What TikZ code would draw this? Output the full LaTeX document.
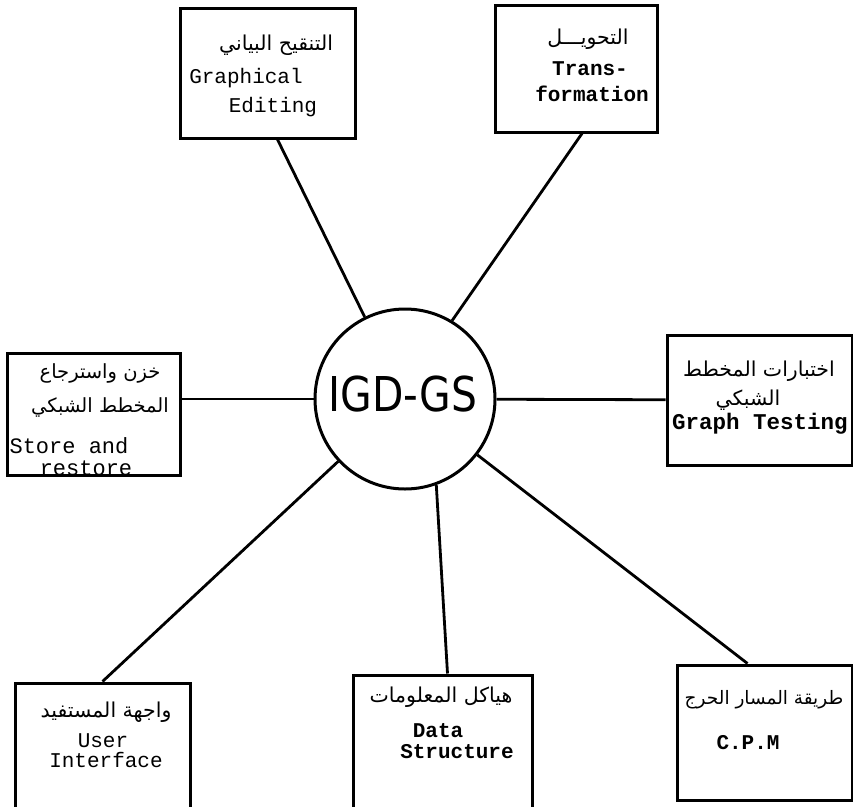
\documentclass[tikz,border=0pt]{standalone}
\usepackage{fontspec}
\setmainfont{Liberation Serif}
\newfontfamily\arabicfont[Script=Arabic]{DejaVu Sans}
\newfontfamily\twfont{Liberation Mono}
\newfontfamily\hubfont{DejaVu Sans}
\TeXXeTstate=1
\begin{document}
\begin{tikzpicture}[x=1pt,y=-1pt,
  box/.style={draw,line width=3pt,inner sep=0pt},
  conn/.style={line width=2.8pt},
  ar/.style={font=\arabicfont\fontsize{20.5}{24}\selectfont,inner sep=0pt},
  en/.style={font=\twfont\fontsize{21}{24}\selectfont,inner sep=0pt},
  enb/.style={font=\twfont\bfseries\fontsize{21}{24}\selectfont,inner sep=0pt}]
\fill[white] (0,0) rectangle (853,806);
\useasboundingbox (0,0) rectangle (853,806);

% hub
\node[draw,circle,line width=3pt,minimum size=180pt,inner sep=0pt] (c) at (405,399) {};
\node[font=\hubfont\fontsize{48}{50}\selectfont,inner sep=0pt] (hub) at (403,394) {\scalebox{0.85}[1]{IGD-GS}};

% boxes
\node[box,minimum width=175pt,minimum height=130pt] (ge) at (267.5,73) {};
\node[box,minimum width=162pt,minimum height=127pt] (tr) at (576,68.5) {};
\node[box,minimum width=173pt,minimum height=122pt] (sr) at (93.5,414) {};
\node[box,minimum width=185pt,minimum height=130pt] (gt) at (759.5,400) {};
\node[box,minimum width=175pt,minimum height=147pt] (ui) at (102.5,756.5) {};
\node[box,minimum width=179pt,minimum height=155pt] (ds) at (442.5,752.5) {};
\node[box,minimum width=175pt,minimum height=135pt] (cpm) at (764.5,732.5) {};

% texts
\node[ar] (geA) at (276,45) {\beginR التنقيح البياني\endR};
\node[en] (geE1) at (246,78) {Graphical};
\node[en] (geE2) at (273,107) {Editing};

\node[ar] (trA) at (588,39) {\beginR التحويـــل\endR};
\node[enb] (trE1) at (590,69) {Trans-};
\node[enb] (trE2) at (592,94) {formation};

\node[ar,font=\arabicfont\fontsize{19.5}{24}\selectfont] (srA1) at (100,373) {\beginR خزن واسترجاع\endR};
\node[ar,font=\arabicfont\fontsize{19.5}{24}\selectfont] (srA2) at (100,407) {\beginR المخطط الشبكي\endR};
\node[en,font=\twfont\fontsize{22}{24}\selectfont] (srE1) at (69,446) {Store and};
\node[en,font=\twfont\fontsize{22}{24}\selectfont] (srE2) at (86,468) {restore};

\node[ar] (gtA1) at (759,371) {\beginR اختبارات المخطط\endR};
\node[ar] (gtA2) at (748,400) {\beginR الشبكي\endR};
\node[enb,font=\twfont\bfseries\fontsize{22.5}{26}\selectfont] (gtE) at (760,424) {Graph Testing};

\node[ar] (uiA) at (106,712) {\beginR واجهة المستفيد\endR};
\node[en] (uiE1) at (103,741) {User};
\node[en] (uiE2) at (106,760) {Interface};

\node[ar] (dsA) at (441,697) {\beginR هياكل المعلومات\endR};
\node[enb] (dsE1) at (438,731) {Data};
\node[enb] (dsE2) at (457,752) {Structure};

\node[ar,font=\arabicfont\fontsize{18.5}{24}\selectfont] (cpmA) at (764,700) {\beginR طريقة المسار الحرج\endR};
\node[enb] (cpmE) at (748,743) {C.P.M};

% connectors
\draw[conn] ([xshift=10pt]ge.south) -- (c);
\draw[conn] ([xshift=6pt]tr.south) -- (c.59);
\draw[conn] (c.west) -- (c.west -| sr.east);
\draw[conn] (c) -- (gt);
\draw[conn] (ui.north) -- (c);
\draw[conn] (c.-70) -- ([xshift=5pt]ds.north);
\draw[conn] ([xshift=-17pt]cpm.north) -- (c);
\end{tikzpicture}
\end{document}
